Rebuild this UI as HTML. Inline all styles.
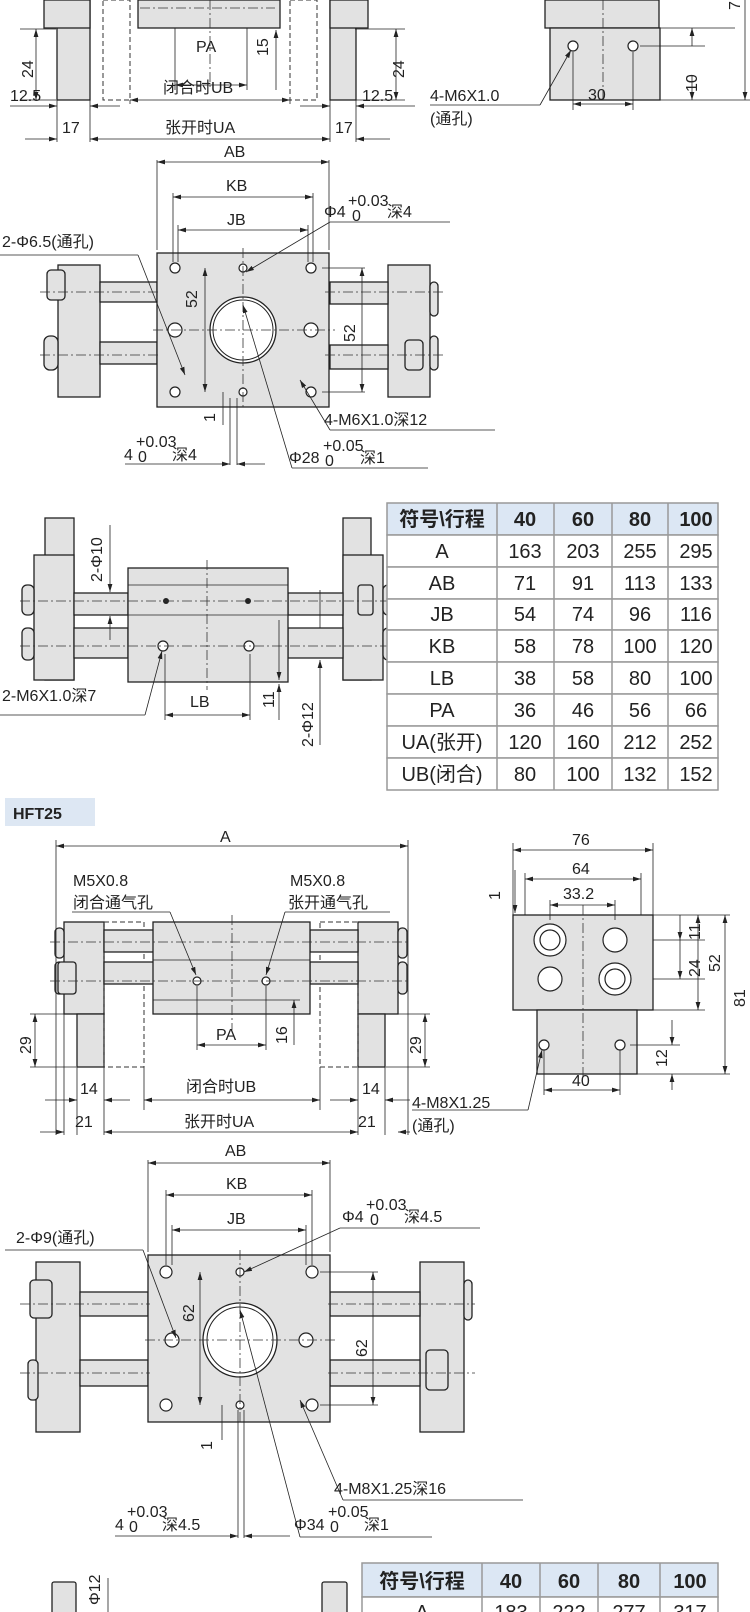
<!DOCTYPE html>
<html><head><meta charset="utf-8"><style>
html,body{margin:0;padding:0;background:#fff}
svg{display:block}
text{font-family:"Liberation Sans","Noto Sans CJK SC",sans-serif;fill:#222;font-size:16px}
.b{fill:#e2e2e2;stroke:#222;stroke-width:1.3}
.d{fill:none;stroke:#333;stroke-width:1;stroke-dasharray:5 3}
.l{stroke:#222;stroke-width:.8;fill:none}
.c{stroke:#333;stroke-width:.8;stroke-dasharray:10 3 2 3;fill:none}
.h{fill:#fff;stroke:#222;stroke-width:1.2}
.t{fill:#fff;stroke:#999;stroke-width:1.5}
.th{fill:#dce7f4;stroke:#999;stroke-width:1.5}
.tb{font-weight:bold;font-size:20px}
.tc{font-size:20px}
</style></head><body>
<svg width="750" height="1612" viewBox="0 0 750 1612" xmlns="http://www.w3.org/2000/svg">
<defs>
<marker id="a" viewBox="0 0 10 6" refX="10" refY="3" markerWidth="10" markerHeight="6" orient="auto-start-reverse"><path d="M0,0L10,3L0,6z" fill="#222"/></marker>
</defs>

<!-- ===== Section 1 ===== -->
<rect class="b" x="57" y="0" width="33" height="100"/>
<rect class="b" x="44" y="0" width="46" height="28"/>
<rect class="b" x="330" y="0" width="26" height="100"/>
<rect class="b" x="330" y="0" width="38" height="28"/>
<rect class="b" x="138" y="0" width="142" height="28"/>
<line class="c" x1="140" y1="8" x2="275" y2="8"/>
<rect class="d" x="103" y="0" width="27" height="100"/>
<rect class="d" x="290" y="0" width="27" height="100"/>
<line class="c" x1="210" y1="0" x2="210" y2="90"/>
<g class="l">
<line x1="20" y1="29" x2="56" y2="29"/><line x1="355" y1="29" x2="405" y2="29"/>
<line x1="20" y1="100" x2="56" y2="100"/><line x1="355" y1="100" x2="405" y2="100"/>
<line x1="36" y1="29" x2="36" y2="100" marker-start="url(#a)" marker-end="url(#a)"/>
<line x1="396" y1="29" x2="396" y2="100" marker-start="url(#a)" marker-end="url(#a)"/>
<line x1="175" y1="28" x2="175" y2="90"/><line x1="247" y1="28" x2="247" y2="90"/>
<line x1="175" y1="85" x2="247" y2="85" marker-start="url(#a)" marker-end="url(#a)"/>
<line x1="276" y1="30" x2="276" y2="90" marker-start="url(#a)"/>
<line x1="130" y1="100" x2="130" y2="104"/><line x1="290" y1="100" x2="290" y2="104"/>
<line x1="130" y1="100" x2="290" y2="100" marker-start="url(#a)" marker-end="url(#a)"/>
<line x1="57" y1="100" x2="57" y2="142"/><line x1="90" y1="100" x2="90" y2="142"/>
<line x1="330" y1="100" x2="330" y2="142"/><line x1="356" y1="100" x2="356" y2="142"/>
<line x1="10" y1="106" x2="57" y2="106" marker-end="url(#a)"/><line x1="120" y1="106" x2="90" y2="106" marker-end="url(#a)"/>
<line x1="300" y1="106" x2="330" y2="106" marker-end="url(#a)"/><line x1="415" y1="106" x2="356" y2="106" marker-end="url(#a)"/>
<line x1="25" y1="139" x2="57" y2="139" marker-end="url(#a)"/><line x1="90" y1="139" x2="330" y2="139" marker-start="url(#a)" marker-end="url(#a)"/>
<line x1="390" y1="139" x2="356" y2="139" marker-end="url(#a)"/>
</g>
<text x="33" y="78" transform="rotate(-90 33 78)" font-size="17">24</text>
<text x="404" y="78" transform="rotate(-90 404 78)" font-size="17">24</text>
<text x="268" y="56" transform="rotate(-90 268 56)" font-size="15">15</text>
<text x="196" y="52" font-size="17">PA</text>
<text x="163" y="93" font-size="17">闭合时UB</text>
<text x="10" y="101" font-size="17">12.5</text>
<text x="362" y="101" font-size="17">12.5</text>
<text x="62" y="133" font-size="17">17</text>
<text x="335" y="133" font-size="17">17</text>
<text x="165" y="133" font-size="17">张开时UA</text>

<rect class="b" x="545" y="0" width="114" height="28"/>
<rect class="b" x="550" y="28" width="110" height="72"/>
<circle class="h" cx="573" cy="46" r="5"/><circle class="h" cx="633" cy="46" r="5"/>
<line class="c" x1="603" y1="0" x2="603" y2="100"/>
<g class="l">
<line x1="660" y1="28" x2="735" y2="28"/><line x1="660" y1="100" x2="750" y2="100"/>
<line x1="640" y1="46" x2="705" y2="46"/>
<line x1="745" y1="0" x2="745" y2="100" marker-end="url(#a)"/>
<line x1="692" y1="28" x2="692" y2="46" marker-start="url(#a)"/>
<line x1="692" y1="100" x2="692" y2="75" marker-start="url(#a)"/>
<line x1="573" y1="52" x2="573" y2="110"/><line x1="633" y1="52" x2="633" y2="110"/>
<line x1="573" y1="104" x2="633" y2="104" marker-start="url(#a)" marker-end="url(#a)"/>
<line x1="430" y1="105" x2="540" y2="105"/><line x1="540" y1="105" x2="571" y2="50" marker-end="url(#a)"/>
</g>
<text x="740" y="10" transform="rotate(-90 740 10)" font-size="14">7</text>
<text x="697" y="92" transform="rotate(-90 697 92)" font-size="14">10</text>
<text x="588" y="100" font-size="17">30</text>
<text x="430" y="101" font-size="17">4-M6X1.0</text>
<text x="430" y="124" font-size="15">(通孔)</text>

<!-- ===== Section 2 ===== -->
<rect class="b" x="58" y="265" width="42" height="132"/>
<rect class="b" x="388" y="265" width="42" height="132"/>
<rect class="b" x="100" y="282" width="57" height="20"/>
<rect class="b" x="100" y="342" width="57" height="22"/>
<rect class="b" x="330" y="282" width="58" height="22"/>
<rect class="b" x="330" y="345" width="58" height="24"/>
<rect class="b" x="47" y="270" width="18" height="30" rx="4"/>
<rect class="b" x="405" y="340" width="18" height="30" rx="4"/>
<rect class="b" x="44" y="336" width="14" height="34" rx="6"/>
<rect class="b" x="430" y="282" width="8" height="34" rx="4"/>
<rect class="b" x="430" y="336" width="8" height="34" rx="4"/>
<rect class="b" x="157" y="253" width="172" height="154"/>
<circle class="h" cx="175" cy="268" r="5"/><circle class="h" cx="311" cy="268" r="5"/>
<circle class="h" cx="175" cy="392" r="5"/><circle class="h" cx="311" cy="392" r="5"/>
<circle class="h" cx="175" cy="330" r="7"/><circle class="h" cx="311" cy="330" r="7"/>
<circle class="h" cx="243" cy="268" r="4"/><circle class="h" cx="243" cy="392" r="4"/>
<circle class="b" cx="243" cy="330" r="33" style="fill:#fff"/>
<circle cx="243" cy="330" r="30" fill="none" stroke="#222" stroke-width="1"/>
<line class="c" x1="153" y1="330" x2="335" y2="330"/>
<line class="c" x1="243" y1="248" x2="243" y2="410"/>
<line class="c" x1="40" y1="292" x2="160" y2="292"/><line class="c" x1="325" y1="292" x2="445" y2="292"/>
<line class="c" x1="40" y1="355" x2="160" y2="355"/><line class="c" x1="325" y1="355" x2="445" y2="355"/>
<g class="l">
<line x1="157" y1="250" x2="157" y2="160"/><line x1="329" y1="250" x2="329" y2="160"/>
<line x1="157" y1="162" x2="329" y2="162" marker-start="url(#a)" marker-end="url(#a)"/>
<line x1="173" y1="262" x2="173" y2="193"/><line x1="313" y1="262" x2="313" y2="193"/>
<line x1="173" y1="197" x2="313" y2="197" marker-start="url(#a)" marker-end="url(#a)"/>
<line x1="178" y1="262" x2="178" y2="225"/><line x1="308" y1="262" x2="308" y2="225"/>
<line x1="178" y1="230" x2="308" y2="230" marker-start="url(#a)" marker-end="url(#a)"/>
<line x1="205" y1="268" x2="205" y2="392" marker-start="url(#a)" marker-end="url(#a)"/>
<line x1="322" y1="268" x2="365" y2="268"/><line x1="322" y1="392" x2="365" y2="392"/>
<line x1="362" y1="268" x2="362" y2="392" marker-start="url(#a)" marker-end="url(#a)"/>
<line x1="0" y1="255" x2="138" y2="255"/><line x1="138" y1="255" x2="185" y2="375" marker-end="url(#a)"/>
<line x1="450" y1="222" x2="330" y2="222"/><line x1="330" y1="222" x2="246" y2="272" marker-end="url(#a)"/>
<line x1="495" y1="430" x2="330" y2="430"/><line x1="330" y1="430" x2="300" y2="380" marker-end="url(#a)"/>
<line x1="230" y1="398" x2="230" y2="465"/><line x1="237" y1="398" x2="237" y2="465"/>
<line x1="125" y1="464" x2="230" y2="464" marker-end="url(#a)"/><line x1="265" y1="464" x2="237" y2="464" marker-end="url(#a)"/>
<line x1="292" y1="468" x2="428" y2="468"/><line x1="292" y1="468" x2="243" y2="305" marker-end="url(#a)"/>
<line x1="223" y1="392" x2="223" y2="425"/>
</g>
<text x="224" y="157" font-size="19">AB</text>
<text x="226" y="191" font-size="19">KB</text>
<text x="227" y="225" font-size="19">JB</text>
<text x="2" y="247" font-size="18">2-Φ6.5(通孔)</text>
<text x="324" y="217" font-size="18">Φ4</text><text x="348" y="206" font-size="13">+0.03</text><text x="352" y="221" font-size="13">0</text><text x="387" y="217" font-size="18">深4</text>
<text x="197" y="308" transform="rotate(-90 197 308)" font-size="18">52</text>
<text x="355" y="342" transform="rotate(-90 355 342)" font-size="18">52</text>
<text x="215" y="422" transform="rotate(-90 215 422)" font-size="15">1</text>
<text x="324" y="425" font-size="18">4-M6X1.0深12</text>
<text x="124" y="460" font-size="18">4</text><text x="136" y="447" font-size="13">+0.03</text><text x="138" y="462" font-size="13">0</text><text x="172" y="460" font-size="18">深4</text>
<text x="289" y="463" font-size="18">Φ28</text><text x="323" y="451" font-size="13">+0.05</text><text x="325" y="466" font-size="13">0</text><text x="360" y="463" font-size="18">深1</text>

<!-- ===== Section 3 ===== -->
<rect class="b" x="45" y="518" width="29" height="162"/>
<rect class="b" x="34" y="555" width="40" height="125"/>
<rect class="b" x="343" y="518" width="28" height="162"/>
<rect class="b" x="343" y="555" width="40" height="125"/>
<rect class="b" x="74" y="593" width="54" height="22"/>
<rect class="b" x="74" y="628" width="54" height="30"/>
<rect class="b" x="288" y="593" width="55" height="22"/>
<rect class="b" x="288" y="628" width="55" height="30"/>
<rect class="b" x="22" y="585" width="12" height="30" rx="5"/><rect class="b" x="22" y="628" width="12" height="32" rx="5"/>
<rect class="b" x="383" y="585" width="10" height="30" rx="5"/><rect class="b" x="383" y="628" width="10" height="32" rx="5"/>
<rect class="b" x="358" y="585" width="15" height="30" rx="3"/>
<rect class="b" x="128" y="568" width="160" height="114"/>
<line class="l" x1="128" y1="585" x2="288" y2="585"/><line class="l" x1="128" y1="615" x2="288" y2="615"/>
<circle cx="166" cy="601" r="3" fill="#222"/><circle cx="248" cy="601" r="3" fill="#222"/>
<circle class="h" cx="163" cy="646" r="5"/><circle class="h" cx="249" cy="646" r="5"/>
<line class="c" x1="207" y1="560" x2="207" y2="690"/>
<line class="c" x1="20" y1="601" x2="395" y2="601"/><line class="c" x1="20" y1="646" x2="395" y2="646"/>
<g class="l">
<line x1="110" y1="525" x2="110" y2="592" marker-end="url(#a)"/><line x1="110" y1="640" x2="110" y2="616" marker-end="url(#a)"/>
<line x1="320" y1="745" x2="320" y2="660" marker-end="url(#a)"/><line x1="320" y1="590" x2="320" y2="628"/>
<line x1="279" y1="620" x2="279" y2="680" marker-end="url(#a)"/><line x1="279" y1="720" x2="279" y2="684" marker-end="url(#a)"/>
<line x1="165" y1="654" x2="165" y2="720"/><line x1="250" y1="654" x2="250" y2="720"/>
<line x1="165" y1="715" x2="250" y2="715" marker-start="url(#a)" marker-end="url(#a)"/>
<line x1="0" y1="715" x2="145" y2="715"/><line x1="145" y1="715" x2="162" y2="651" marker-end="url(#a)"/>
</g>
<text x="102" y="582" transform="rotate(-90 102 582)" font-size="18">2-Φ10</text>
<text x="313" y="747" transform="rotate(-90 313 747)" font-size="18">2-Φ12</text>
<text x="274" y="708" transform="rotate(-90 274 708)" font-size="15">11</text>
<text x="190" y="707" font-size="18">LB</text>
<text x="2" y="701" font-size="18">2-M6X1.0深7</text>

<!-- Table 1 -->
<g>
<rect class="th" x="387" y="503" width="331" height="32"/>
<g class="t">
<rect x="387" y="535" width="331" height="32"/><rect x="387" y="567" width="331" height="32"/>
<rect x="387" y="599" width="331" height="31"/><rect x="387" y="630" width="331" height="32"/>
<rect x="387" y="662" width="331" height="32"/><rect x="387" y="694" width="331" height="32"/>
<rect x="387" y="726" width="331" height="32"/><rect x="387" y="758" width="331" height="32"/>
</g>
<g stroke="#999" stroke-width="1.5"><line x1="497" y1="503" x2="497" y2="790"/><line x1="554" y1="503" x2="554" y2="790"/><line x1="612" y1="503" x2="612" y2="790"/><line x1="668" y1="503" x2="668" y2="790"/></g>
<g text-anchor="middle">
<text class="tb" x="442" y="526">符号\行程</text><text class="tb" x="525" y="526">40</text><text class="tb" x="583" y="526">60</text><text class="tb" x="640" y="526">80</text><text class="tb" x="696" y="526">100</text>
<text class="tc" x="442" y="558">A</text><text class="tc" x="525" y="558">163</text><text class="tc" x="583" y="558">203</text><text class="tc" x="640" y="558">255</text><text class="tc" x="696" y="558">295</text>
<text class="tc" x="442" y="590">AB</text><text class="tc" x="525" y="590">71</text><text class="tc" x="583" y="590">91</text><text class="tc" x="640" y="590">113</text><text class="tc" x="696" y="590">133</text>
<text class="tc" x="442" y="621">JB</text><text class="tc" x="525" y="621">54</text><text class="tc" x="583" y="621">74</text><text class="tc" x="640" y="621">96</text><text class="tc" x="696" y="621">116</text>
<text class="tc" x="442" y="653">KB</text><text class="tc" x="525" y="653">58</text><text class="tc" x="583" y="653">78</text><text class="tc" x="640" y="653">100</text><text class="tc" x="696" y="653">120</text>
<text class="tc" x="442" y="685">LB</text><text class="tc" x="525" y="685">38</text><text class="tc" x="583" y="685">58</text><text class="tc" x="640" y="685">80</text><text class="tc" x="696" y="685">100</text>
<text class="tc" x="442" y="717">PA</text><text class="tc" x="525" y="717">36</text><text class="tc" x="583" y="717">46</text><text class="tc" x="640" y="717">56</text><text class="tc" x="696" y="717">66</text>
<text class="tc" x="442" y="749" font-size="19">UA(张开)</text><text class="tc" x="525" y="749">120</text><text class="tc" x="583" y="749">160</text><text class="tc" x="640" y="749">212</text><text class="tc" x="696" y="749">252</text>
<text class="tc" x="442" y="781" font-size="19">UB(闭合)</text><text class="tc" x="525" y="781">80</text><text class="tc" x="583" y="781">100</text><text class="tc" x="640" y="781">132</text><text class="tc" x="696" y="781">152</text>
</g>
</g>

<rect x="5" y="798" width="90" height="28" fill="#dde7f3"/>
<text x="13" y="819" font-weight="bold" font-size="19">HFT25</text>

<!-- ===== Section 4 ===== -->
<rect class="b" x="64" y="922" width="40" height="92"/>
<rect class="b" x="77" y="1014" width="27" height="53"/>
<rect class="b" x="358" y="922" width="40" height="92"/>
<rect class="b" x="358" y="1014" width="27" height="53"/>
<rect class="d" x="104" y="922" width="40" height="145"/>
<rect class="d" x="320" y="922" width="38" height="145"/>
<rect class="b" x="104" y="930" width="50" height="22"/>
<rect class="b" x="104" y="962" width="50" height="22"/>
<rect class="b" x="310" y="930" width="48" height="22"/>
<rect class="b" x="310" y="962" width="48" height="22"/>
<rect class="b" x="55" y="928" width="9" height="30" rx="4"/><rect class="b" x="55" y="962" width="9" height="32" rx="4"/>
<rect class="b" x="398" y="928" width="9" height="30" rx="4"/><rect class="b" x="398" y="962" width="9" height="32" rx="4"/>
<rect class="b" x="58" y="962" width="18" height="32" rx="3"/>
<rect class="b" x="153" y="922" width="157" height="92"/>
<line class="l" x1="153" y1="960" x2="310" y2="960"/><line class="l" x1="153" y1="1000" x2="300" y2="1000"/>
<circle class="h" cx="197" cy="981" r="4"/><circle class="h" cx="266" cy="981" r="4"/>
<line class="c" x1="232" y1="915" x2="232" y2="1030"/>
<line class="c" x1="50" y1="942" x2="410" y2="942"/><line class="c" x1="50" y1="981" x2="410" y2="981"/>
<g class="l">
<line x1="56" y1="922" x2="56" y2="1135"/><line x1="408" y1="922" x2="408" y2="1135"/>
<line x1="56" y1="846" x2="408" y2="846" marker-start="url(#a)" marker-end="url(#a)"/>
<line x1="56" y1="922" x2="56" y2="840"/><line x1="408" y1="922" x2="408" y2="840"/>
<line x1="72" y1="912" x2="170" y2="912"/><line x1="170" y1="912" x2="196" y2="975" marker-end="url(#a)"/>
<line x1="285" y1="912" x2="390" y2="912"/><line x1="285" y1="912" x2="266" y2="975" marker-end="url(#a)"/>
<line x1="30" y1="1014" x2="76" y2="1014"/><line x1="30" y1="1067" x2="76" y2="1067"/>
<line x1="386" y1="1014" x2="430" y2="1014"/><line x1="386" y1="1067" x2="430" y2="1067"/>
<line x1="35" y1="1014" x2="35" y2="1067" marker-start="url(#a)" marker-end="url(#a)"/>
<line x1="425" y1="1014" x2="425" y2="1067" marker-start="url(#a)" marker-end="url(#a)"/>
<line x1="197" y1="986" x2="197" y2="1050"/><line x1="266" y1="986" x2="266" y2="1050"/>
<line x1="197" y1="1045" x2="266" y2="1045" marker-start="url(#a)" marker-end="url(#a)"/>
<line x1="294" y1="1000" x2="294" y2="1045" marker-start="url(#a)"/>
<line x1="144" y1="1067" x2="144" y2="1110"/><line x1="320" y1="1067" x2="320" y2="1110"/>
<line x1="144" y1="1100" x2="320" y2="1100" marker-start="url(#a)" marker-end="url(#a)"/>
<line x1="64" y1="1014" x2="64" y2="1135"/><line x1="77" y1="1067" x2="77" y2="1135"/><line x1="104" y1="1067" x2="104" y2="1135"/>
<line x1="358" y1="1067" x2="358" y2="1135"/><line x1="385" y1="1067" x2="385" y2="1135"/>
<line x1="45" y1="1100" x2="77" y2="1100" marker-end="url(#a)"/><line x1="130" y1="1100" x2="104" y2="1100" marker-end="url(#a)"/>
<line x1="330" y1="1100" x2="358" y2="1100" marker-end="url(#a)"/><line x1="410" y1="1100" x2="385" y2="1100" marker-end="url(#a)"/>
<line x1="40" y1="1132" x2="64" y2="1132" marker-end="url(#a)"/><line x1="104" y1="1132" x2="358" y2="1132" marker-start="url(#a)" marker-end="url(#a)"/>
<line x1="410" y1="1132" x2="398" y2="1132" marker-end="url(#a)"/>
</g>
<text x="220" y="842" font-size="16">A</text>
<text x="73" y="886" font-size="16">M5X0.8</text><text x="73" y="908" font-size="16">闭合通气孔</text>
<text x="290" y="886" font-size="16">M5X0.8</text><text x="288" y="908" font-size="16">张开通气孔</text>
<text x="31" y="1054" transform="rotate(-90 31 1054)" font-size="16">29</text>
<text x="421" y="1054" transform="rotate(-90 421 1054)" font-size="16">29</text>
<text x="287" y="1044" transform="rotate(-90 287 1044)" font-size="15">16</text>
<text x="216" y="1040" font-size="17">PA</text>
<text x="186" y="1092" font-size="17">闭合时UB</text>
<text x="80" y="1094" font-size="17">14</text><text x="362" y="1094" font-size="17">14</text>
<text x="75" y="1127" font-size="17">21</text><text x="358" y="1127" font-size="17">21</text>
<text x="184" y="1127" font-size="17">张开时UA</text>

<rect class="b" x="513" y="915" width="140" height="95"/>
<rect class="b" x="537" y="1010" width="100" height="64"/>
<circle class="h" cx="550" cy="940" r="16"/><circle class="h" cx="550" cy="940" r="10"/>
<circle class="h" cx="615" cy="940" r="12"/><circle class="h" cx="550" cy="979" r="12"/>
<circle class="h" cx="615" cy="979" r="16"/><circle class="h" cx="615" cy="979" r="10"/>
<circle class="h" cx="544" cy="1045" r="5"/><circle class="h" cx="620" cy="1045" r="5"/>
<line class="c" x1="583" y1="905" x2="583" y2="1080"/>
<g class="l">
<line x1="513" y1="915" x2="513" y2="843"/><line x1="653" y1="915" x2="653" y2="843"/>
<line x1="513" y1="850" x2="653" y2="850" marker-start="url(#a)" marker-end="url(#a)"/>
<line x1="525" y1="915" x2="525" y2="873"/><line x1="641" y1="915" x2="641" y2="873"/>
<line x1="525" y1="879" x2="641" y2="879" marker-start="url(#a)" marker-end="url(#a)"/>
<line x1="550" y1="920" x2="550" y2="900"/><line x1="615" y1="920" x2="615" y2="900"/>
<line x1="550" y1="905" x2="615" y2="905" marker-start="url(#a)" marker-end="url(#a)"/>
<line x1="515" y1="870" x2="515" y2="913" marker-end="url(#a)"/>
<line x1="653" y1="915" x2="730" y2="915"/><line x1="637" y1="1074" x2="730" y2="1074"/>
<line x1="653" y1="940" x2="705" y2="940"/><line x1="653" y1="979" x2="705" y2="979"/><line x1="637" y1="1010" x2="705" y2="1010"/>
<line x1="725" y1="915" x2="725" y2="1074" marker-start="url(#a)" marker-end="url(#a)"/>
<line x1="698" y1="915" x2="698" y2="1010" marker-start="url(#a)" marker-end="url(#a)"/>
<line x1="680" y1="915" x2="680" y2="940" marker-end="url(#a)"/><line x1="680" y1="940" x2="680" y2="979" marker-end="url(#a)"/>
<line x1="630" y1="1045" x2="680" y2="1045"/>
<line x1="672" y1="1020" x2="672" y2="1045" marker-end="url(#a)"/><line x1="672" y1="1090" x2="672" y2="1074" marker-end="url(#a)"/>
<line x1="544" y1="1050" x2="544" y2="1095"/><line x1="620" y1="1050" x2="620" y2="1095"/>
<line x1="544" y1="1090" x2="620" y2="1090" marker-start="url(#a)" marker-end="url(#a)"/>
<line x1="412" y1="1110" x2="528" y2="1110"/><line x1="528" y1="1110" x2="542" y2="1050" marker-end="url(#a)"/>
</g>
<text x="572" y="845" font-size="16">76</text>
<text x="572" y="874" font-size="16">64</text>
<text x="563" y="899" font-size="16">33.2</text>
<text x="500" y="900" transform="rotate(-90 500 900)" font-size="15">1</text>
<text x="700" y="940" transform="rotate(-90 700 940)" font-size="15">11</text>
<text x="700" y="977" transform="rotate(-90 700 977)" font-size="15">24</text>
<text x="720" y="972" transform="rotate(-90 720 972)" font-size="15">52</text>
<text x="745" y="1007" transform="rotate(-90 745 1007)" font-size="15">81</text>
<text x="667" y="1067" transform="rotate(-90 667 1067)" font-size="15">12</text>
<text x="572" y="1086" font-size="16">40</text>
<text x="412" y="1108" font-size="16">4-M8X1.25</text>
<text x="412" y="1131" font-size="15">(通孔)</text>

<!-- ===== Section 5 ===== -->
<rect class="b" x="36" y="1262" width="44" height="170"/>
<rect class="b" x="420" y="1262" width="44" height="170"/>
<rect class="b" x="80" y="1292" width="68" height="24"/>
<rect class="b" x="80" y="1360" width="68" height="26"/>
<rect class="b" x="330" y="1292" width="90" height="24"/>
<rect class="b" x="330" y="1360" width="90" height="26"/>
<rect class="b" x="30" y="1280" width="22" height="38" rx="4"/>
<rect class="b" x="426" y="1350" width="22" height="40" rx="4"/>
<rect class="b" x="28" y="1360" width="10" height="40" rx="4"/>
<rect class="b" x="464" y="1280" width="8" height="40" rx="4"/>
<rect class="b" x="148" y="1255" width="182" height="167"/>
<circle class="h" cx="166" cy="1272" r="6"/><circle class="h" cx="312" cy="1272" r="6"/>
<circle class="h" cx="166" cy="1405" r="6"/><circle class="h" cx="312" cy="1405" r="6"/>
<circle class="h" cx="172" cy="1340" r="7"/><circle class="h" cx="306" cy="1340" r="7"/>
<circle class="h" cx="240" cy="1272" r="4"/><circle class="h" cx="240" cy="1405" r="4"/>
<circle cx="240" cy="1340" r="37" fill="#fff" stroke="#222" stroke-width="1.3"/>
<circle cx="240" cy="1340" r="33" fill="none" stroke="#222" stroke-width="1"/>
<line class="c" x1="145" y1="1340" x2="335" y2="1340"/>
<line class="c" x1="240" y1="1250" x2="240" y2="1425"/>
<line class="c" x1="20" y1="1304" x2="150" y2="1304"/><line class="c" x1="328" y1="1304" x2="475" y2="1304"/>
<line class="c" x1="20" y1="1373" x2="150" y2="1373"/><line class="c" x1="328" y1="1373" x2="475" y2="1373"/>
<g class="l">
<line x1="148" y1="1252" x2="148" y2="1160"/><line x1="330" y1="1252" x2="330" y2="1160"/>
<line x1="148" y1="1163" x2="330" y2="1163" marker-start="url(#a)" marker-end="url(#a)"/>
<line x1="166" y1="1265" x2="166" y2="1190"/><line x1="312" y1="1265" x2="312" y2="1190"/>
<line x1="166" y1="1195" x2="312" y2="1195" marker-start="url(#a)" marker-end="url(#a)"/>
<line x1="172" y1="1265" x2="172" y2="1225"/><line x1="306" y1="1265" x2="306" y2="1225"/>
<line x1="172" y1="1230" x2="306" y2="1230" marker-start="url(#a)" marker-end="url(#a)"/>
<line x1="200" y1="1272" x2="200" y2="1405" marker-start="url(#a)" marker-end="url(#a)"/>
<line x1="320" y1="1272" x2="378" y2="1272"/><line x1="320" y1="1405" x2="378" y2="1405"/>
<line x1="373" y1="1272" x2="373" y2="1405" marker-start="url(#a)" marker-end="url(#a)"/>
<line x1="5" y1="1250" x2="143" y2="1250"/><line x1="143" y1="1250" x2="176" y2="1338" marker-end="url(#a)"/>
<line x1="480" y1="1228" x2="340" y2="1228"/><line x1="340" y1="1228" x2="244" y2="1272" marker-end="url(#a)"/>
<line x1="523" y1="1500" x2="343" y2="1500"/><line x1="343" y1="1500" x2="300" y2="1400" marker-end="url(#a)"/>
<line x1="238" y1="1410" x2="238" y2="1538"/><line x1="244" y1="1410" x2="244" y2="1538"/>
<line x1="115" y1="1536" x2="238" y2="1536" marker-end="url(#a)"/><line x1="290" y1="1536" x2="244" y2="1536" marker-end="url(#a)"/>
<line x1="300" y1="1537" x2="432" y2="1537"/><line x1="300" y1="1537" x2="240" y2="1310" marker-end="url(#a)"/>
<line x1="222" y1="1405" x2="222" y2="1440"/>
</g>
<text x="225" y="1156" font-size="19">AB</text>
<text x="226" y="1189" font-size="19">KB</text>
<text x="227" y="1224" font-size="19">JB</text>
<text x="16" y="1243" font-size="18">2-Φ9(通孔)</text>
<text x="342" y="1222" font-size="18">Φ4</text><text x="366" y="1210" font-size="13">+0.03</text><text x="370" y="1225" font-size="13">0</text><text x="404" y="1222" font-size="18">深4.5</text>
<text x="194" y="1322" transform="rotate(-90 194 1322)" font-size="18">62</text>
<text x="367" y="1357" transform="rotate(-90 367 1357)" font-size="18">62</text>
<text x="212" y="1450" transform="rotate(-90 212 1450)" font-size="15">1</text>
<text x="334" y="1494" font-size="18">4-M8X1.25深16</text>
<text x="115" y="1530" font-size="18">4</text><text x="127" y="1517" font-size="13">+0.03</text><text x="129" y="1532" font-size="13">0</text><text x="162" y="1530" font-size="18">深4.5</text>
<text x="294" y="1530" font-size="18">Φ34</text><text x="328" y="1517" font-size="13">+0.05</text><text x="330" y="1532" font-size="13">0</text><text x="364" y="1530" font-size="18">深1</text>

<!-- ===== Section 6 ===== -->
<rect class="b" x="52" y="1582" width="24" height="40" rx="2"/>
<rect class="b" x="322" y="1582" width="25" height="40" rx="2"/>
<line class="l" x1="108" y1="1578" x2="108" y2="1612"/>
<text x="100" y="1605" transform="rotate(-90 100 1605)" font-size="14">Φ12</text>
<rect class="th" x="362" y="1563" width="356" height="34"/>
<rect class="t" x="362" y="1597" width="356" height="30"/>
<g stroke="#999" stroke-width="1.5"><line x1="482" y1="1563" x2="482" y2="1612"/><line x1="540" y1="1563" x2="540" y2="1612"/><line x1="598" y1="1563" x2="598" y2="1612"/><line x1="660" y1="1563" x2="660" y2="1612"/></g>
<g text-anchor="middle">
<text class="tb" x="422" y="1588">符号\行程</text><text class="tb" x="511" y="1588">40</text><text class="tb" x="569" y="1588">60</text><text class="tb" x="629" y="1588">80</text><text class="tb" x="690" y="1588">100</text>
<text class="tc" x="422" y="1619">A</text><text class="tc" x="511" y="1619">183</text><text class="tc" x="569" y="1619">222</text><text class="tc" x="629" y="1619">277</text><text class="tc" x="690" y="1619">317</text>
</g>
</svg>
</body></html>
